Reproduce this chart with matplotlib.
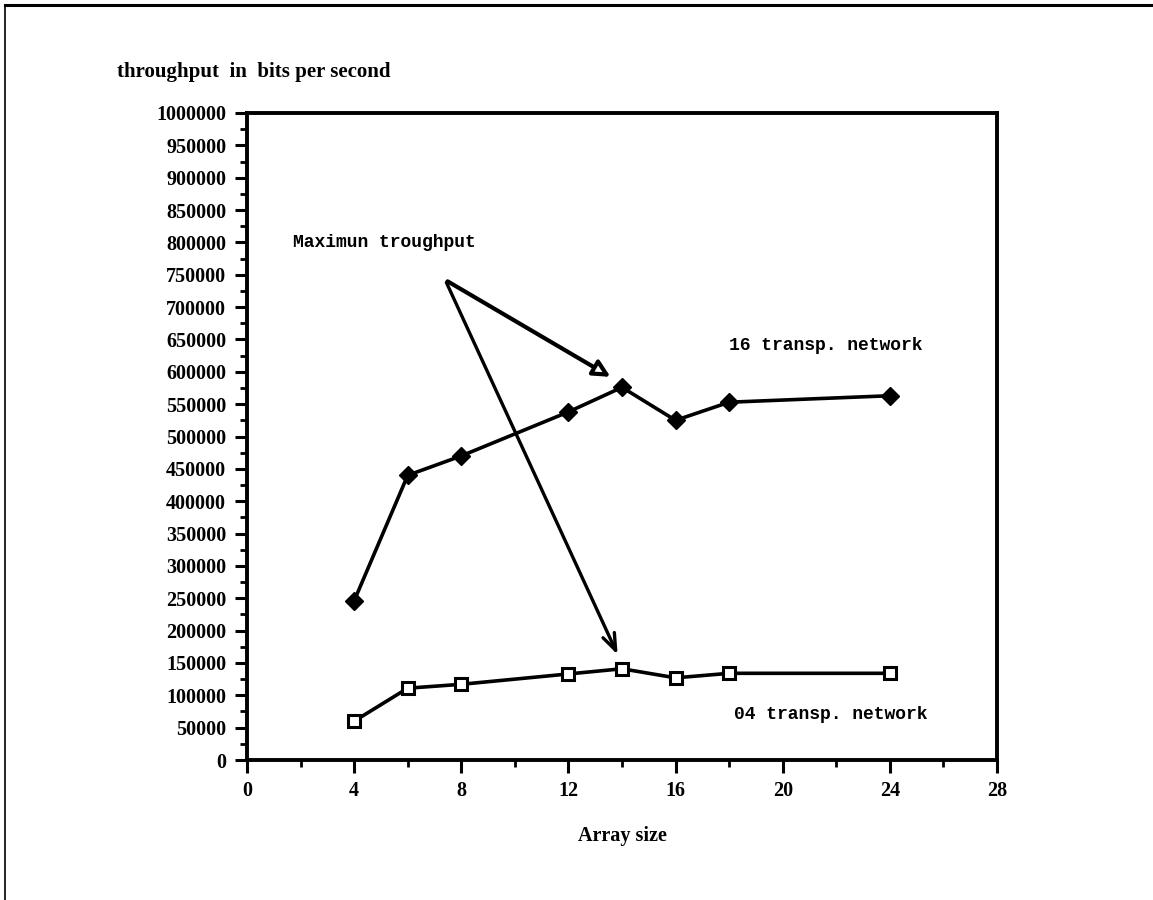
import matplotlib
matplotlib.use('Agg')
import matplotlib.pyplot as plt
from matplotlib.lines import Line2D
from matplotlib.ticker import MultipleLocator

# data
array_size = [4, 6, 8, 12, 14, 16, 18, 24]
net16 = [246000, 440000, 470000, 538000, 576000, 525000, 553000, 563000]
net04 = [60000, 111000, 117000, 133000, 141000, 127000, 134000, 134000]

x_ticks = [0, 4, 8, 12, 16, 20, 24, 28]
y_ticks = list(range(0, 1000001, 50000))

W, H = 1153, 900
fig = plt.figure(figsize=(W / 100, H / 100), dpi=100)

# page frame of the scan (top and left edges)
fig.add_artist(Line2D([5 / W, 1], [1 - 5 / H, 1 - 5 / H], color='black', lw=2.2))
fig.add_artist(Line2D([5 / W, 5 / W], [0, 1 - 5 / H], color='black', lw=1.2))

ax = fig.add_axes([247 / W, 1 - 760 / H, 750 / W, 647 / H])

serif = 'Liberation Serif'
mono = 'Liberation Mono'

ax.plot(array_size, net16, color='black', lw=2.6, marker='D', ms=9,
        mfc='black', mec='black')
ax.plot(array_size, net04, color='black', lw=2.6, marker='s', ms=9,
        mfc='white', mec='black', mew=2.2)

ax.set_xlim(0, 28)
ax.set_ylim(0, 1000000)
ax.set_xticks(x_ticks)
ax.set_yticks(y_ticks)
ax.set_xticklabels([str(v) for v in x_ticks], fontfamily=serif, fontweight='bold', fontsize=14.5)
ax.set_yticklabels([str(v) for v in y_ticks], fontfamily=serif, fontweight='bold', fontsize=14.5)
ax.xaxis.set_minor_locator(MultipleLocator(2))
ax.yaxis.set_minor_locator(MultipleLocator(25000))
ax.tick_params(axis='both', which='major', direction='out', length=9, width=2.2, pad=6)
ax.tick_params(axis='both', which='minor', direction='out', length=5, width=2)
for s in ax.spines.values():
    s.set_linewidth(2.8)

ax.set_xlabel('Array size', fontfamily=serif, fontweight='bold', fontsize=14.5, labelpad=18)

# text and arrows
fig.text(117 / W, 1 - 72 / H, 'throughput  in  bits per second', fontfamily=serif,
         fontweight='bold', fontsize=15, va='center', ha='left')

ax.text(1.7, 800000, 'Maximun troughput', fontfamily=mono, fontweight='bold',
        fontsize=13, va='center', ha='left')
ax.text(18, 640000, '16 transp. network', fontfamily=mono, fontweight='bold',
        fontsize=13, va='center', ha='left')
ax.text(18.2, 70000, '04 transp. network', fontfamily=mono, fontweight='bold',
        fontsize=13, va='center', ha='left')

apex = (7.4, 742000)
ax.annotate('', xy=(13.66, 590000), xytext=apex,
            arrowprops=dict(arrowstyle='-|>,head_length=1.0,head_width=0.5',
                            color='black', lw=3, fc='white'))
ax.annotate('', xy=(13.88, 159000), xytext=apex,
            arrowprops=dict(arrowstyle='->,head_length=1.2,head_width=0.45',
                            color='black', lw=2.4))

fig.savefig('out.png', dpi=100)
